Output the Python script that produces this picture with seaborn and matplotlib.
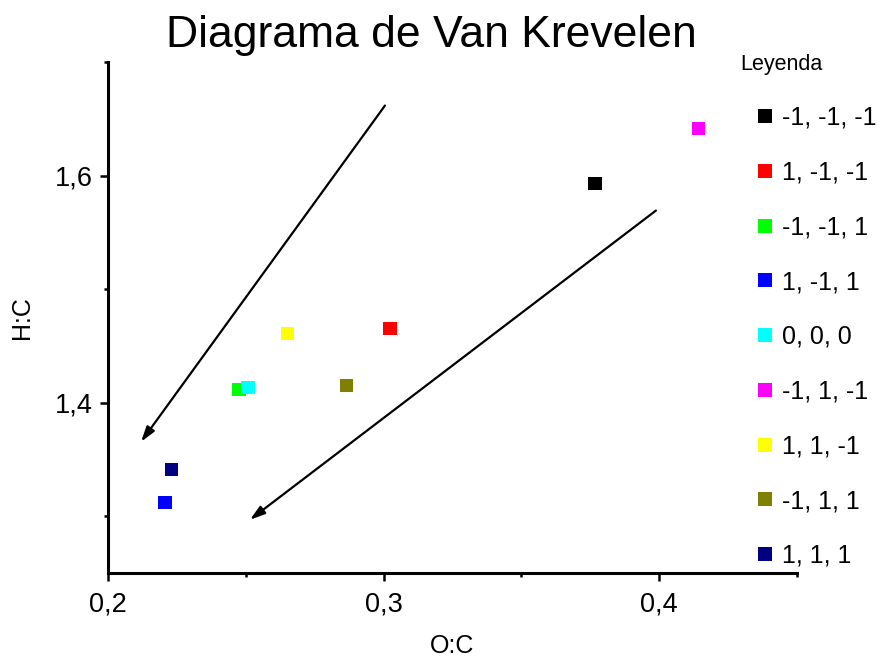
import matplotlib
matplotlib.use('Agg')
import matplotlib.pyplot as plt
from matplotlib.ticker import FuncFormatter, MultipleLocator
import pandas as pd
import seaborn as sns

etiquetas = ['-1, -1, -1', '1, -1, -1', '-1, -1, 1', '1, -1, 1', '0, 0, 0',
             '-1, 1, -1', '1, 1, -1', '-1, 1, 1', '1, 1, 1']
o_c = [0.3767, 0.3023, 0.2475, 0.2207, 0.2508, 0.4141, 0.2650, 0.2864, 0.2229]
h_c = [1.593, 1.465, 1.4115, 1.312, 1.4132, 1.6414, 1.4608, 1.415, 1.341]
colores = ['#000000', '#ff0000', '#00ff00', '#0000ff', '#00ffff',
           '#ff00ff', '#ffff00', '#808000', '#000080']

# flechas (inicio -> fin)
flecha_ini = [(0.3005, 1.6617), (0.3988, 1.5692)]
flecha_fin = [(0.2120, 1.3656), (0.2515, 1.2969)]

df = pd.DataFrame({'O:C': o_c, 'H:C': h_c, 'Tratamiento': etiquetas})

sns.set_style('white')
plt.rcParams['font.family'] = ['Liberation Sans', 'DejaVu Sans']
plt.rcParams['text.color'] = 'black'
plt.rcParams['axes.labelcolor'] = 'black'
plt.rcParams['xtick.color'] = 'black'
plt.rcParams['ytick.color'] = 'black'

fig = plt.figure(figsize=(8.81, 6.62), dpi=100)
ax = fig.add_axes([0.1226, 0.1344, 0.7821, 0.7719])

sns.scatterplot(data=df, x='O:C', y='H:C', hue='Tratamiento', hue_order=etiquetas,
                palette=colores, marker='s', s=90, linewidth=0, ax=ax)

for ini, fin in zip(flecha_ini, flecha_fin):
    ax.annotate('', xy=fin, xytext=ini,
                arrowprops=dict(arrowstyle='-|>,head_length=0.9,head_width=0.28',
                                color='black', lw=1.6, shrinkA=0, shrinkB=0))

ax.set_xlim(0.2, 0.45)
ax.set_ylim(1.25, 1.70)
ax.xaxis.set_major_locator(MultipleLocator(0.1))
ax.xaxis.set_minor_locator(MultipleLocator(0.05))
ax.yaxis.set_major_locator(MultipleLocator(0.2))
ax.yaxis.set_minor_locator(MultipleLocator(0.1))

# coma decimal
coma = FuncFormatter(lambda v, p: f'{v:.1f}'.replace('.', ','))
ax.xaxis.set_major_formatter(coma)
ax.yaxis.set_major_formatter(coma)

sns.despine(ax=ax)
for lado in ['left', 'bottom']:
    ax.spines[lado].set_linewidth(2.2)
    ax.spines[lado].set_color('black')
ax.tick_params(which='major', direction='out', length=6, width=1.8, labelsize=19.5,
               left=True, bottom=True, color='black', labelcolor='black')
ax.tick_params(which='minor', direction='out', length=3, width=1.8,
               left=True, bottom=True, color='black')
ax.tick_params(axis='x', which='major', pad=7)
ax.tick_params(axis='y', which='major', pad=5)

ax.set_xlabel('O:C', fontsize=18, labelpad=12)
ax.set_ylabel('H:C', fontsize=18, labelpad=15)

fig.text(0.49, 0.946, 'Diagrama de Van Krevelen', fontsize=32, ha='center', va='center')

# leyenda fuera del grafico, a la derecha (coordenadas de la figura)
sns.move_legend(ax, 'upper left', bbox_to_anchor=(0.8286, 0.9335),
                bbox_transform=fig.transFigure, title='Leyenda',
                frameon=False, fontsize=18, title_fontsize=15.5, labelspacing=1.23,
                handlelength=2.0, handletextpad=-0.32, borderpad=0.4,
                borderaxespad=0, alignment='left')

fig.savefig('out.png', dpi=100)
